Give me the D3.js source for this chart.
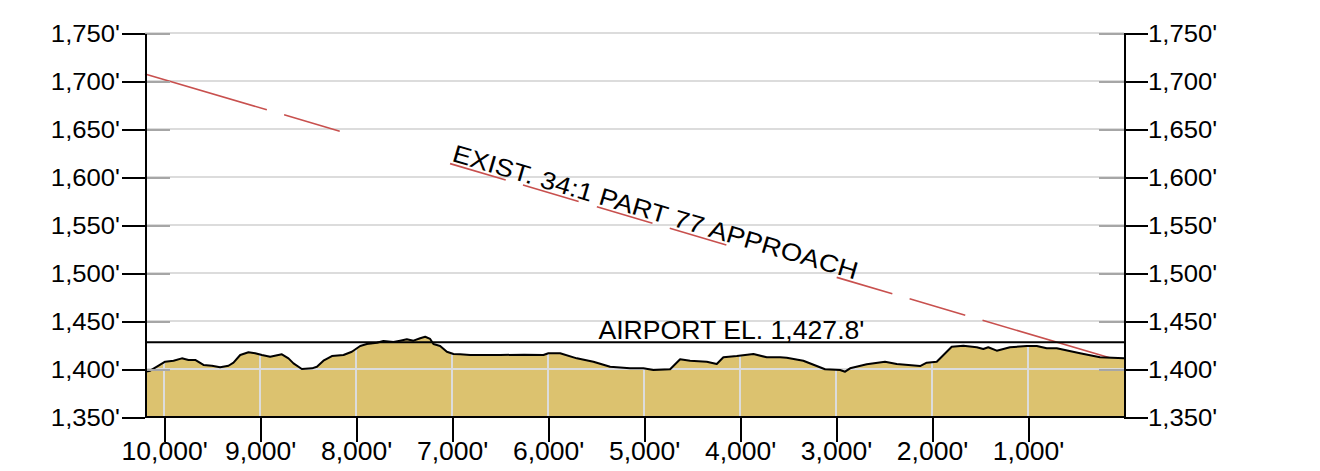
<!DOCTYPE html>
<html>
  <head>
    <meta http-equiv="Content-Type" content="text/html;charset=utf-8">
    <title>Approach profile</title>
    <script type="text/javascript" src="https://d3js.org/d3.v7.min.js"></script>
    <style>
	    html, body {
		    margin: 0;
		    padding: 0;
		    background: #fff;
	    }
	    text {
		    font-family: "Liberation Sans", Arial, sans-serif;
		    fill: #000;
	    }
	    .axis path,
	    .axis line {
		    stroke: #000;
		    stroke-width: 2px;
		    shape-rendering: crispEdges;
	    }
	    .grid line {
		    stroke: #dcdcdc;
		    stroke-width: 2px;
		    shape-rendering: crispEdges;
	    }
	    .inner line {
		    stroke: #a6a6a6;
		    stroke-width: 2px;
		    shape-rendering: crispEdges;
	    }
    </style>
  </head>
  <body>
	<script type="text/javascript">

// distances from threshold (ft) and ground elevations (ft)
var distTicks = [10000, 9000, 8000, 7000, 6000, 5000, 4000, 3000, 2000, 1000];
var elevTicks = [1350, 1400, 1450, 1500, 1550, 1600, 1650, 1700, 1750];

var profileDist = [10198, 10146, 10076, 9990, 9903, 9816, 9747, 9677, 9591, 9503, 9417, 9330, 9278, 9208, 9122,
  9052, 8982, 8896, 8774, 8705, 8653, 8566, 8461, 8409, 8341, 8253, 8132, 8045, 7958, 7889, 7784, 7716, 7611,
  7542, 7472, 7403, 7333, 7281, 7229, 7195, 7125, 7055, 6986, 6917, 6813, 6500, 6250, 6049, 5997, 5875, 5701,
  5528, 5354, 5146, 5007, 4903, 4729, 4625, 4521, 4347, 4243, 4174, 4034, 3861, 3722, 3583, 3514, 3341, 3115,
  2958, 2906, 2854, 2680, 2490, 2368, 2125, 2055, 1951, 1795, 1674, 1534, 1466, 1414, 1326, 1188, 1014, 909,
  805, 701, 458, 250, 0];
var profileElev = [1397.2, 1398.2, 1402.4, 1407.6, 1408.6, 1411.1, 1409.4, 1409.4, 1404.2, 1403.4, 1401.8, 1403.4,
  1406.6, 1414.6, 1417.4, 1416.4, 1414.6, 1412.8, 1415.3, 1411.1, 1405.9, 1400.0, 1400.7, 1402.4, 1408.6, 1413.5,
  1414.6, 1418.0, 1424.0, 1426.0, 1427.4, 1429.2, 1428.1, 1429.5, 1430.9, 1429.5, 1432.0, 1433.6, 1431.3, 1426.0,
  1424.0, 1418.0, 1415.6, 1415.3, 1414.6, 1414.6, 1414.9, 1414.6, 1416.4, 1416.4, 1411.1, 1407.6, 1402.4, 1400.7,
  1400.7, 1399.0, 1399.7, 1410.1, 1408.6, 1407.6, 1405.2, 1412.2, 1413.5, 1415.6, 1412.2, 1412.2, 1411.8, 1408.6,
  1399.7, 1399.0, 1397.2, 1400.7, 1404.9, 1407.6, 1405.2, 1403.1, 1406.6, 1407.6, 1423.2, 1424.3, 1422.6, 1420.8,
  1422.6, 1419.1, 1422.6, 1424.0, 1424.0, 1421.6, 1421.6, 1416.4, 1412.2, 1411.1];

var approachDist = [10200, 0];
var approachElev = [1707.4, 1407.4];
var approachLabel = "EXIST. 34:1 PART 77 APPROACH";
var approachLabelDist = 7020;

var airportElev = 1427.8;
var airportLabel = "AIRPORT EL. 1,427.8'";
var airportLabelDist = 4090;

var width = 1320, height = 471;
var plotLeft = 145, plotRight = 1124, plotTop = 33, plotBottom = 417;

var x = d3.scaleLinear().domain([10200, 0]).range([plotLeft, plotRight]);
var y = d3.scaleLinear().domain([1350, 1750]).range([plotBottom, plotTop]);

var fmt = function(v) { return d3.format(",")(v) + "'"; };

function stretch(sel, k) {
	sel.each(function() {
		var w = this.getComputedTextLength();
		d3.select(this).attr("textLength", w * k).attr("lengthAdjust", "spacingAndGlyphs");
	});
}

var svg = d3.select("body").append("svg").attr("width", width).attr("height", height);

var profile = profileDist.map(function(d, i) { return {d: d, e: profileElev[i]}; });

var area = d3.area()
	.x(function(p) { return x(p.d); })
	.y0(y(1350))
	.y1(function(p) { return y(p.e); });

var line = d3.line()
	.x(function(p) { return x(p.d); })
	.y(function(p) { return y(p.e); });

// horizontal grid
svg.append("g").attr("class", "grid")
	.selectAll("line").data(elevTicks).enter().append("line")
	.attr("x1", plotLeft).attr("x2", plotRight)
	.attr("y1", function(d) { return y(d); }).attr("y2", function(d) { return y(d); });

// approach surface
var approach = approachDist.map(function(d, i) { return {d: d, e: approachElev[i]}; });
svg.append("path")
	.attr("d", line(approach))
	.attr("fill", "none")
	.attr("stroke", "#c8504e")
	.attr("stroke-width", 1.6)
	.attr("stroke-dasharray", "127,18,58,115,58,18,58,19,58,18,59,115,58,18,58,18,400");

// terrain
svg.append("clipPath").attr("id", "terrainClip")
	.append("path").attr("d", area(profile));

svg.append("path")
	.attr("d", area(profile))
	.attr("fill", "#dcc26f");

var inside = svg.append("g").attr("clip-path", "url(#terrainClip)");
inside.append("g").attr("class", "grid")
	.selectAll("line").data(distTicks).enter().append("line")
	.attr("x1", function(d) { return x(d); }).attr("x2", function(d) { return x(d); })
	.attr("y1", plotTop).attr("y2", plotBottom);
inside.append("g").attr("class", "grid")
	.selectAll("line").data(elevTicks).enter().append("line")
	.attr("x1", plotLeft).attr("x2", plotRight)
	.attr("y1", function(d) { return y(d); }).attr("y2", function(d) { return y(d); });

svg.append("path")
	.attr("d", line(profile))
	.attr("fill", "none")
	.attr("stroke", "#000")
	.attr("stroke-width", 2)
	.attr("stroke-linejoin", "round");

// airport elevation
svg.append("line")
	.attr("x1", plotLeft).attr("x2", plotRight)
	.attr("y1", y(airportElev)).attr("y2", y(airportElev))
	.attr("stroke", "#000").attr("stroke-width", 2);

svg.append("text")
	.attr("x", x(airportLabelDist))
	.attr("y", y(airportElev) - 3)
	.attr("text-anchor", "middle")
	.attr("font-size", 25)
	.attr("textLength", 266)
	.attr("lengthAdjust", "spacingAndGlyphs")
	.text(airportLabel);

// approach label, along the surface
var approachAt = d3.scaleLinear().domain(approachDist).range(approachElev);
var angle = Math.atan2(y(approachElev[1]) - y(approachElev[0]), x(approachDist[1]) - x(approachDist[0])) * 180 / Math.PI;
svg.append("text")
	.attr("transform", "translate(" + x(approachLabelDist) + "," + y(approachAt(approachLabelDist)) + ") rotate(" + angle + ")")
	.attr("y", -3)
	.attr("font-size", 24.5)
	.attr("textLength", 421)
	.attr("lengthAdjust", "spacingAndGlyphs")
	.text(approachLabel);

// inner gray tick stubs
svg.append("g").attr("class", "inner")
	.attr("transform", "translate(" + plotLeft + ",0)")
	.call(d3.axisLeft(y).tickValues(elevTicks.slice(1)).tickSize(-25).tickFormat(""))
	.select(".domain").remove();
svg.append("g").attr("class", "inner")
	.attr("transform", "translate(" + plotRight + ",0)")
	.call(d3.axisRight(y).tickValues(elevTicks.slice(1)).tickSize(-25).tickFormat(""))
	.select(".domain").remove();

// axes
var yl = svg.append("g").attr("class", "axis")
	.attr("transform", "translate(" + plotLeft + ",0)")
	.call(d3.axisLeft(y).tickValues(elevTicks).tickSize(23).tickSizeOuter(0).tickPadding(2).tickFormat(fmt));
var yr = svg.append("g").attr("class", "axis")
	.attr("transform", "translate(" + plotRight + ",0)")
	.call(d3.axisRight(y).tickValues(elevTicks).tickSize(24).tickSizeOuter(0).tickPadding(0).tickFormat(fmt));
var xb = svg.append("g").attr("class", "axis")
	.attr("transform", "translate(0," + plotBottom + ")")
	.call(d3.axisBottom(x).tickValues(distTicks).tickSize(25).tickSizeOuter(0).tickPadding(0).tickFormat(fmt));
xb.select(".domain").attr("d", "M" + plotLeft + ",0H" + plotRight);

svg.selectAll(".axis text").attr("font-size", 24).attr("font-family", null);
yl.selectAll("text").attr("dy", "0.36em");
yr.selectAll("text").attr("dy", "0.36em");
xb.selectAll("text").attr("font-size", 25.5);
stretch(yl.selectAll("text"), 1.07);
stretch(yr.selectAll("text"), 1.07);
stretch(xb.selectAll("text"), 1.04);

	</script>
  </body>
</html>
